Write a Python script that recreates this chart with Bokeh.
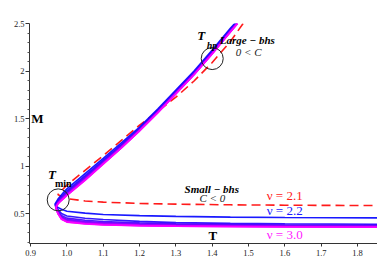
from bokeh.plotting import figure
from bokeh.models import FixedTicker
from bokeh.core.properties import value
from bokeh.embed import file_html
from bokeh.resources import INLINE

# ---- data ----
NU = [2.2, 2.3, 2.4, 2.5, 2.6, 2.7, 2.8, 2.9, 3.0]

# upper (large-bhs) branch, common temperature grid
UP_T = [0.975, 0.98, 0.99, 1.0, 1.05, 1.1, 1.15, 1.2, 1.25, 1.3, 1.35, 1.4, 1.45]
M_UP_22 = [0.650, 0.675, 0.720, 0.760, 0.920, 1.080, 1.245, 1.410, 1.600, 1.800, 2.000, 2.220, 2.450]
M_UP_23 = [0.635, 0.659, 0.700, 0.739, 0.899, 1.062, 1.229, 1.398, 1.588, 1.788, 1.988, 2.208, 2.438]
M_UP_24 = [0.625, 0.648, 0.688, 0.725, 0.885, 1.050, 1.218, 1.390, 1.580, 1.780, 1.980, 2.200, 2.430]
M_UP_25 = [0.618, 0.640, 0.678, 0.715, 0.875, 1.042, 1.210, 1.384, 1.574, 1.774, 1.974, 2.194, 2.424]
M_UP_26 = [0.613, 0.634, 0.671, 0.708, 0.868, 1.035, 1.204, 1.380, 1.570, 1.770, 1.970, 2.190, 2.420]
M_UP_27 = [0.608, 0.629, 0.665, 0.701, 0.861, 1.030, 1.199, 1.376, 1.566, 1.766, 1.966, 2.186, 2.416]
M_UP_28 = [0.604, 0.624, 0.660, 0.696, 0.856, 1.025, 1.194, 1.373, 1.563, 1.763, 1.963, 2.183, 2.413]
M_UP_29 = [0.602, 0.622, 0.657, 0.692, 0.852, 1.022, 1.192, 1.371, 1.561, 1.761, 1.961, 2.181, 2.411]
M_UP_30 = [0.600, 0.620, 0.655, 0.690, 0.850, 1.020, 1.190, 1.370, 1.560, 1.760, 1.960, 2.180, 2.410]
TOP_T = [1.462, 1.464, 1.466, 1.467, 1.468, 1.469, 1.469, 1.470, 1.470]  # where M reaches 2.5
NOSE_T = [0.967, 0.968, 0.968, 0.969, 0.969, 0.969, 0.970, 0.970, 0.970]
NOSE_M = [0.600, 0.590, 0.583, 0.577, 0.572, 0.568, 0.565, 0.562, 0.560]

# lower (small-bhs) branch, common temperature grid
LO_T = [0.975, 0.985, 1.0, 1.05, 1.1, 1.2, 1.3, 1.45, 1.6, 1.86]
M_LO_22 = [0.565, 0.545, 0.525, 0.505, 0.490, 0.478, 0.470, 0.463, 0.459, 0.455]
M_LO_23 = [0.545, 0.500, 0.475, 0.450, 0.437, 0.418, 0.405, 0.397, 0.392, 0.388]
M_LO_24 = [0.529, 0.479, 0.452, 0.429, 0.417, 0.402, 0.391, 0.385, 0.380, 0.377]
M_LO_25 = [0.520, 0.467, 0.439, 0.417, 0.406, 0.392, 0.384, 0.378, 0.374, 0.370]
M_LO_26 = [0.514, 0.458, 0.430, 0.408, 0.397, 0.385, 0.378, 0.373, 0.369, 0.366]
M_LO_27 = [0.509, 0.452, 0.423, 0.402, 0.391, 0.380, 0.374, 0.369, 0.366, 0.362]
M_LO_28 = [0.505, 0.446, 0.417, 0.396, 0.386, 0.376, 0.370, 0.366, 0.362, 0.359]
M_LO_29 = [0.502, 0.443, 0.413, 0.393, 0.383, 0.373, 0.368, 0.364, 0.361, 0.358]
M_LO_30 = [0.500, 0.440, 0.410, 0.390, 0.380, 0.371, 0.366, 0.362, 0.359, 0.356]

# nu = 2.1 (red dashed)
RED_UP_T = [0.975, 0.98, 1.0, 1.05, 1.1, 1.15, 1.2, 1.25, 1.3, 1.35, 1.4, 1.45, 1.485]
RED_UP_M = [0.700, 0.720, 0.800, 0.955, 1.110, 1.270, 1.430, 1.575, 1.725, 1.895, 2.090, 2.310, 2.500]
RED_LO_T = [0.985, 1.0, 1.05, 1.1, 1.2, 1.3, 1.45, 1.6, 1.86]
RED_LO_M = [0.680, 0.658, 0.632, 0.620, 0.607, 0.599, 0.592, 0.588, 0.584]

X_TICKS = [0.9, 1.0, 1.1, 1.2, 1.3, 1.4, 1.5, 1.6, 1.7, 1.8]
X_LABELS = ["0.9", "1.0", "1.1", "1.2", "1.3", "1.4", "1.5", "1.6", "1.7", "1.8"]
Y_TICKS = [0.5, 1.0, 1.5, 2.0, 2.5]
Y_LABELS = ["0.5", "1", "1.5", "2", "2.5"]
Y_MINOR = [0.2, 0.3, 0.4, 0.6, 0.7, 0.8, 0.9, 1.1, 1.2, 1.3, 1.4, 1.6, 1.7, 1.8, 1.9,
           2.1, 2.2, 2.3, 2.4]

CIRCLE_T = [0.976, 1.400]
CIRCLE_M = [0.644, 2.131]

M_UP = [M_UP_22, M_UP_23, M_UP_24, M_UP_25, M_UP_26, M_UP_27, M_UP_28, M_UP_29, M_UP_30]
M_LO = [M_LO_22, M_LO_23, M_LO_24, M_LO_25, M_LO_26, M_LO_27, M_LO_28, M_LO_29, M_LO_30]

SERIF = value("Liberation Serif")

p = figure(width=377, height=267, x_range=(0.897, 1.855), y_range=(0.185, 2.5),
           output_backend="svg", toolbar_location=None,
           min_border_left=29, min_border_right=0, min_border_top=23, min_border_bottom=24)
p.outline_line_color = None
p.xgrid.grid_line_color = None
p.ygrid.grid_line_color = None
p.background_fill_color = "white"
p.border_fill_color = "white"

for ax in (p.xaxis[0], p.yaxis[0]):
    ax.axis_line_color = "#333333"
    ax.axis_line_width = 1
    ax.major_tick_line_color = "#333333"
    ax.minor_tick_line_color = "#555555"
    ax.major_label_text_font = "Liberation Serif"
    ax.major_label_text_font_size = "8.5px"
    ax.major_label_text_color = "#222222"
    ax.major_tick_in = 0
    ax.minor_tick_in = 0

p.xaxis.ticker = FixedTicker(ticks=X_TICKS)
p.xaxis.major_label_overrides = dict(zip(X_TICKS, X_LABELS))
p.xaxis.major_tick_out = 3
p.xaxis.minor_tick_out = 0
p.xaxis.major_label_standoff = 3
p.yaxis.ticker = FixedTicker(ticks=Y_TICKS, minor_ticks=Y_MINOR)
p.yaxis.major_label_overrides = dict(zip(Y_TICKS, Y_LABELS))
p.yaxis.major_tick_out = 4
p.yaxis.minor_tick_out = 2
p.yaxis.major_label_standoff = 1

# red dashed nu = 2.1
red_t = RED_UP_T[::-1] + RED_LO_T
red_m = RED_UP_M[::-1] + RED_LO_M
p.line(red_t, red_m, line_color="#ff1a1a", line_width=1.6, line_dash="9 5")

# nu = 2.2 ... 3.0, blue -> magenta
for i, nu in enumerate(NU):
    f = (nu - 2.2) / 0.8
    col = "#%02x%02x%02x" % (int(round(255 * f)), 0, 255)
    ts = [TOP_T[i]] + UP_T[::-1] + [NOSE_T[i]] + LO_T
    ms = [2.5] + M_UP[i][::-1] + [NOSE_M[i]] + M_LO[i]
    p.line(ts, ms, line_color=col, line_width=1.6, line_alpha=0.9)

# circles around T_min and T_hp
p.scatter(CIRCLE_T, CIRCLE_M, marker="circle", size=22, fill_color=None,
          line_color="#222222", line_width=1)

# annotations (anchored at the bottom of the text box)
def label(x, y, s, size, style="normal", color="black"):
    p.text([x], [y], text=[s], text_font=SERIF, text_font_size=size,
           text_font_style=style, text_color=color, text_baseline="bottom",
           text_align="left")

label(0.948, 0.835, "T", "13px", "bold italic")
label(0.967, 0.761, "min", "10px", "bold")
label(1.359, 2.298, "T", "13px", "bold italic")
label(1.385, 2.210, "hp", "10px", "bold italic")
label(1.421, 2.268, "Large \u2212 bhs", "11px", "bold italic")
label(1.465, 2.135, "0 < C", "11px", "italic", "#222222")
label(1.324, 0.699, "Small \u2212 bhs", "11px", "bold italic")
label(1.365, 0.601, "C < 0", "11px", "italic", "#222222")
label(1.55, 0.607, "\u03bd = 2.1", "13px", "normal", "#ff1a1a")
label(1.55, 0.456, "\u03bd = 2.2", "13px", "normal", "#1a1aff")
label(1.55, 0.204, "\u03bd = 3.0", "13px", "normal", "#ff1aff")
label(0.902, 1.419, "M", "13px", "bold")
label(1.39, 0.187, "T", "13px", "bold")

open("out.html", "w").write(file_html(p, INLINE))
